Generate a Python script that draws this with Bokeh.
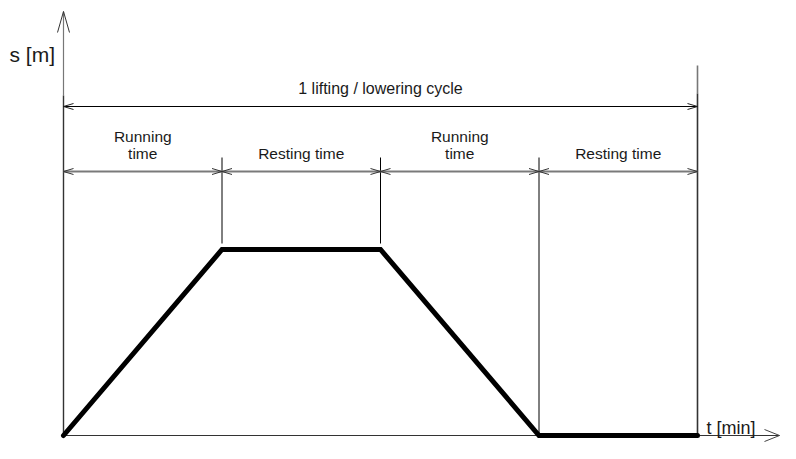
from bokeh.plotting import figure
from bokeh.models import Range1d
from bokeh.embed import file_html
from bokeh.resources import INLINE
from bokeh.core.properties import value

# ---------------- data ----------------
phase_bounds = [0, 1, 2, 3, 4]          # t [min], boundaries of the phases
phase_labels = ["Running\ntime", "Resting time", "Running\ntime", "Resting time"]
profile_t = [0, 1, 2, 3, 4]             # t [min]
profile_s = [0, 1, 1, 0, 0]             # s [m] (relative)
cycle_label = "1 lifting / lowering cycle"
x_label = "t [min]"
y_label = "s [m]"

# ---------------- layout ----------------
W, H = 780, 443
ORIGIN_X, ORIGIN_Y = 63, 435   # canvas px of (t=0, s=0)
PX_T = 158.5                   # px per minute
PX_S = 186.0                   # px per unit s
FONT = "Liberation Sans"


def tx(px):
    return (px - ORIGIN_X) / PX_T


def sy(py):
    return (ORIGIN_Y - py) / PX_S


p = figure(width=W, height=H, output_backend="svg", toolbar_location=None,
           x_range=Range1d(tx(0), tx(W)), y_range=Range1d(sy(H), sy(0)),
           x_axis_type=None, y_axis_type=None, min_border=0,
           background_fill_color="white", border_fill_color="white")
p.outline_line_color = None


def head(xt, ys, dx, dy, length, half):
    """open arrow head with tip at (xt, ys); (dx, dy) screen direction, dy up."""
    bx, by = -dx * length, -dy * length
    ox, oy = -dy * half, dx * half
    out = []
    for wx, wy in ((bx + ox, by + oy), (bx - ox, by - oy)):
        out.append((xt, ys, xt + wx / PX_T, ys + wy / PX_S))
    return out


def draw_segs(segs, color, width):
    if not segs:
        return
    x0, y0, x1, y1 = zip(*segs)
    p.segment(x0=list(x0), y0=list(y0), x1=list(x1), y1=list(y1),
              line_color=color, line_width=width)


T0, T_END = phase_bounds[0], phase_bounds[-1]
S_TOP = max(profile_s)

# axes
y_tip = sy(11)
x_tip = tx(779)
y_split = sy(95)
draw_segs([(T0, y_split, T0, y_tip)], "#777777", 1.2)
draw_segs([(T0, 0, T0, y_split)], "#333333", 1.4)
draw_segs(head(T0, y_tip, 0, 1, 21, 6), "#333333", 1)
draw_segs([(T0, 0, x_tip, 0)], "#333333", 1)
draw_segs(head(x_tip, 0, 1, 0, 15, 6), "#444444", 1)

# end-of-cycle line
draw_segs([(T_END, sy(93), T_END, sy(65))], "#777777", 1.6)
draw_segs([(T_END, 0, T_END, sy(93))], "#333333", 1.6)

# extension lines at inner boundaries
ext = []
for b in phase_bounds[1:-1]:
    s_at = profile_s[profile_t.index(b)]
    bottom = s_at + 6 / PX_S if s_at > 0 else 0
    ext.append((b, sy(157), b, bottom))
draw_segs(ext, "black", 1)

# full cycle dimension line
y_cyc = sy(106)
draw_segs([(T0, y_cyc, T_END, y_cyc)], "black", 1)
draw_segs(head(T0, y_cyc, -1, 0, 10, 3) + head(T_END, y_cyc, 1, 0, 10, 3), "#222222", 1)

# phase dimension lines
y_ph = sy(171)
lines, heads = [], []
for a, b in zip(phase_bounds[:-1], phase_bounds[1:]):
    lines.append((a, y_ph, b, y_ph))
    heads += head(a, y_ph, -1, 0, 10, 3) + head(b, y_ph, 1, 0, 10, 3)
draw_segs(lines, "#7a7a7a", 1.8)
draw_segs(heads, "#333333", 1)

# motion profile
p.line(profile_t, profile_s, line_color="black", line_width=5,
       line_join="miter", line_cap="round")

# texts
p.text(x=[(T0 + T_END) / 2], y=[sy(88)], text=[cycle_label],
       text_font=value(FONT), text_font_size="16px", text_color="#1a1a1a",
       text_align="center", text_baseline="alphabetic")

tx_l, ty_l, tt_l = [], [], []
for a, b, lab in zip(phase_bounds[:-1], phase_bounds[1:], phase_labels):
    rows = lab.split("\n")
    n = len(rows)
    for i, r in enumerate(rows):
        tx_l.append((a + b) / 2)
        ty_l.append(sy(153 - (n - 1 - i) * 17))
        tt_l.append(r)
p.text(x=tx_l, y=ty_l, text=tt_l, text_font=value(FONT), text_font_size="15.5px",
       text_color="#1a1a1a", text_align="center", text_baseline="alphabetic")

p.text(x=[tx(9)], y=[sy(54)], text=[y_label], text_font=value(FONT),
       text_font_size="21px", text_color="#1a1a1a", text_align="left",
       text_baseline="alphabetic")
p.text(x=[tx(706)], y=[sy(427)], text=[x_label], text_font=value(FONT),
       text_font_size="18px", text_color="#1a1a1a", text_align="left",
       text_baseline="alphabetic")

open("out.html", "w").write(file_html(p, INLINE))
